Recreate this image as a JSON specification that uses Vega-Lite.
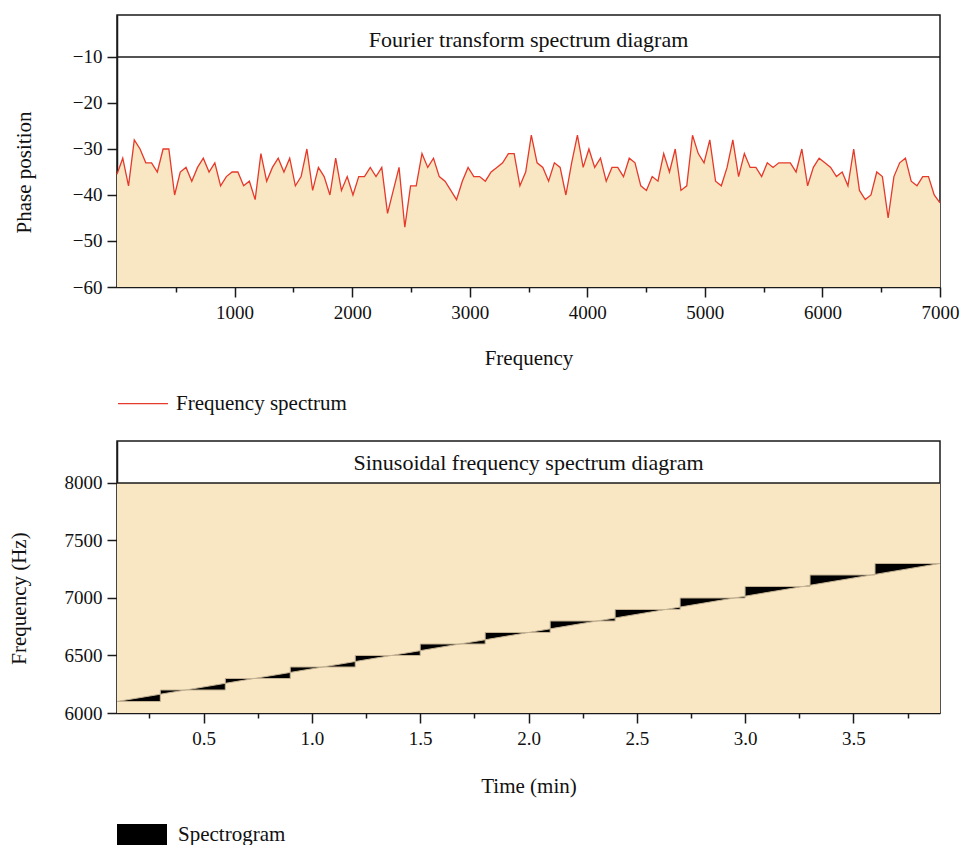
{
  "$schema": "https://vega.github.io/schema/vega-lite/v6.json",
  "background": "white",
  "padding": {"left": 7, "top": 14, "right": 5, "bottom": 0},
  "spacing": 154,
  "bounds": "flush",
  "resolve": {"scale": {"color": "independent"}, "legend": {"color": "independent"}},
  "config": {
    "font": "Liberation Serif",
    "view": {"stroke": "#1a1a1a", "strokeWidth": 1.5},
    "axis": {
      "grid": false,
      "domainColor": "#1a1a1a",
      "domainWidth": 1.5,
      "tickColor": "#1a1a1a",
      "tickWidth": 1.5,
      "labelFont": "Liberation Serif",
      "labelFontSize": 19,
      "labelColor": "#111111",
      "labelFlush": false,
      "labelOverlap": false,
      "titleFont": "Liberation Serif",
      "titleFontSize": 21,
      "titleFontWeight": "normal",
      "titleColor": "#111111"
    },
    "legend": {
      "labelFont": "Liberation Serif",
      "labelFontSize": 21,
      "labelColor": "#111111",
      "labelLimit": 400,
      "padding": 0
    }
  },
  "vconcat": [
    {
      "width": 823,
      "height": 272,
      "data": {
        "values": [
          {"frequency": 0, "phase": -35.5}, {"frequency": 49, "phase": -32}, {"frequency": 98, "phase": -38}, {"frequency": 147, "phase": -28},
          {"frequency": 196, "phase": -30}, {"frequency": 245, "phase": -33}, {"frequency": 294, "phase": -33}, {"frequency": 343, "phase": -35},
          {"frequency": 392, "phase": -30}, {"frequency": 441, "phase": -30}, {"frequency": 490, "phase": -40}, {"frequency": 538, "phase": -35},
          {"frequency": 587, "phase": -34}, {"frequency": 636, "phase": -37}, {"frequency": 685, "phase": -34}, {"frequency": 734, "phase": -32},
          {"frequency": 783, "phase": -35}, {"frequency": 832, "phase": -33}, {"frequency": 881, "phase": -38}, {"frequency": 930, "phase": -36},
          {"frequency": 979, "phase": -35}, {"frequency": 1028, "phase": -35}, {"frequency": 1077, "phase": -38}, {"frequency": 1126, "phase": -37},
          {"frequency": 1175, "phase": -41}, {"frequency": 1224, "phase": -31}, {"frequency": 1273, "phase": -37}, {"frequency": 1322, "phase": -34},
          {"frequency": 1371, "phase": -32}, {"frequency": 1420, "phase": -35}, {"frequency": 1469, "phase": -32}, {"frequency": 1517, "phase": -38},
          {"frequency": 1566, "phase": -36}, {"frequency": 1615, "phase": -30}, {"frequency": 1664, "phase": -39}, {"frequency": 1713, "phase": -34},
          {"frequency": 1762, "phase": -36}, {"frequency": 1811, "phase": -40}, {"frequency": 1860, "phase": -32}, {"frequency": 1909, "phase": -39},
          {"frequency": 1958, "phase": -36}, {"frequency": 2007, "phase": -40}, {"frequency": 2056, "phase": -36}, {"frequency": 2105, "phase": -36},
          {"frequency": 2154, "phase": -34}, {"frequency": 2203, "phase": -36}, {"frequency": 2252, "phase": -34}, {"frequency": 2301, "phase": -44},
          {"frequency": 2350, "phase": -39}, {"frequency": 2399, "phase": -34}, {"frequency": 2448, "phase": -47}, {"frequency": 2497, "phase": -38},
          {"frequency": 2545, "phase": -38}, {"frequency": 2594, "phase": -31}, {"frequency": 2643, "phase": -34}, {"frequency": 2692, "phase": -32},
          {"frequency": 2741, "phase": -36}, {"frequency": 2790, "phase": -37}, {"frequency": 2839, "phase": -39}, {"frequency": 2888, "phase": -41},
          {"frequency": 2937, "phase": -37}, {"frequency": 2986, "phase": -34}, {"frequency": 3035, "phase": -36}, {"frequency": 3084, "phase": -36},
          {"frequency": 3133, "phase": -37}, {"frequency": 3182, "phase": -35}, {"frequency": 3231, "phase": -34}, {"frequency": 3280, "phase": -33},
          {"frequency": 3329, "phase": -31}, {"frequency": 3378, "phase": -31}, {"frequency": 3427, "phase": -38}, {"frequency": 3476, "phase": -35},
          {"frequency": 3524, "phase": -27}, {"frequency": 3573, "phase": -33}, {"frequency": 3622, "phase": -34}, {"frequency": 3671, "phase": -37},
          {"frequency": 3720, "phase": -33}, {"frequency": 3769, "phase": -34}, {"frequency": 3818, "phase": -40}, {"frequency": 3867, "phase": -33},
          {"frequency": 3916, "phase": -27}, {"frequency": 3965, "phase": -34}, {"frequency": 4014, "phase": -30}, {"frequency": 4063, "phase": -34},
          {"frequency": 4112, "phase": -32}, {"frequency": 4161, "phase": -37}, {"frequency": 4210, "phase": -34}, {"frequency": 4259, "phase": -34},
          {"frequency": 4308, "phase": -36}, {"frequency": 4357, "phase": -32}, {"frequency": 4406, "phase": -33}, {"frequency": 4455, "phase": -38},
          {"frequency": 4503, "phase": -39}, {"frequency": 4552, "phase": -36}, {"frequency": 4601, "phase": -37}, {"frequency": 4650, "phase": -31},
          {"frequency": 4699, "phase": -35}, {"frequency": 4748, "phase": -30}, {"frequency": 4797, "phase": -39}, {"frequency": 4846, "phase": -38},
          {"frequency": 4895, "phase": -27}, {"frequency": 4944, "phase": -31}, {"frequency": 4993, "phase": -33}, {"frequency": 5042, "phase": -28},
          {"frequency": 5091, "phase": -37}, {"frequency": 5140, "phase": -38}, {"frequency": 5189, "phase": -34}, {"frequency": 5238, "phase": -28},
          {"frequency": 5287, "phase": -36}, {"frequency": 5336, "phase": -31}, {"frequency": 5385, "phase": -34}, {"frequency": 5434, "phase": -34},
          {"frequency": 5483, "phase": -36}, {"frequency": 5531, "phase": -33}, {"frequency": 5580, "phase": -34}, {"frequency": 5629, "phase": -33},
          {"frequency": 5678, "phase": -33}, {"frequency": 5727, "phase": -33}, {"frequency": 5776, "phase": -35}, {"frequency": 5825, "phase": -30},
          {"frequency": 5874, "phase": -38}, {"frequency": 5923, "phase": -34}, {"frequency": 5972, "phase": -32}, {"frequency": 6021, "phase": -33},
          {"frequency": 6070, "phase": -34}, {"frequency": 6119, "phase": -36}, {"frequency": 6168, "phase": -35}, {"frequency": 6217, "phase": -38},
          {"frequency": 6266, "phase": -30}, {"frequency": 6315, "phase": -39}, {"frequency": 6364, "phase": -41}, {"frequency": 6413, "phase": -40},
          {"frequency": 6462, "phase": -35}, {"frequency": 6510, "phase": -36}, {"frequency": 6559, "phase": -45}, {"frequency": 6608, "phase": -36},
          {"frequency": 6657, "phase": -33}, {"frequency": 6706, "phase": -32}, {"frequency": 6755, "phase": -37}, {"frequency": 6804, "phase": -38},
          {"frequency": 6853, "phase": -36}, {"frequency": 6902, "phase": -36}, {"frequency": 6951, "phase": -40}, {"frequency": 7000, "phase": -41.7}
        ]
      },
      "layer": [
        {
          "mark": {"type": "area", "color": "#f9e6c3"},
          "encoding": {
            "x": {
              "field": "frequency", "type": "quantitative",
              "scale": {"domain": [0, 7000], "nice": false, "zero": false},
              "axis": {
                "title": "Frequency",
                "format": "d",
                "values": [500, 1000, 1500, 2000, 2500, 3000, 3500, 4000, 4500, 5000, 5500, 6000, 6500, 7000],
                "labelExpr": "datum.value % 1000 === 0 ? datum.label : ''",
                "tickSize": {"condition": {"test": "datum.value % 1000 === 0", "value": 10}, "value": 5},
                "labelPadding": 6,
                "titlePadding": 25
              }
            },
            "y": {
              "field": "phase", "type": "quantitative",
              "scale": {"domain": [-60, -0.87], "nice": false, "zero": false},
              "axis": {
                "title": "Phase position",
                "values": [-60, -55, -50, -45, -40, -35, -30, -25, -20, -15, -10],
                "labelExpr": "datum.value % 10 === 0 ? datum.label : ''",
                "tickSize": {"condition": {"test": "datum.value % 10 === 0", "value": 10}, "value": 5},
                "labelPadding": 5,
                "titlePadding": 38,
                "titleY": 157
              }
            },
            "y2": {"datum": -60}
          }
        },
        {
          "mark": {"type": "line", "strokeWidth": 1.3},
          "encoding": {
            "x": {"field": "frequency", "type": "quantitative", "title": "Frequency"},
            "y": {"field": "phase", "type": "quantitative", "title": "Phase position"},
            "color": {
              "datum": "Frequency spectrum", "type": "nominal",
              "scale": {"range": ["#e5392b"]},
              "legend": {
                "orient": "none", "legendX": 0, "legendY": 362.6, "title": null,
                "symbolType": "stroke", "symbolSize": 2500, "symbolStrokeWidth": 1.3,
                "labelOffset": 7
              }
            }
          }
        },
        {
          "data": {"values": [{}]},
          "mark": {"type": "rule", "color": "#1a1a1a", "strokeWidth": 1.5},
          "encoding": {"y": {"datum": -10}}
        },
        {
          "data": {"values": [{"label": "Fourier transform spectrum diagram"}]},
          "mark": {"type": "text", "fontSize": 22, "baseline": "alphabetic", "align": "center", "color": "#111111"},
          "encoding": {
            "x": {"datum": 3500},
            "y": {"datum": -7.9},
            "text": {"field": "label"}
          }
        }
      ]
    },
    {
      "width": 823,
      "height": 272,
      "layer": [
        {
          "data": {"values": [{}]},
          "mark": {"type": "rect", "color": "#f9e6c3"},
          "encoding": {
            "x": {
              "datum": 0.1, "type": "quantitative",
              "scale": {"domain": [0.1, 3.9], "nice": false, "zero": false},
              "axis": {
                "title": "Time (min)",
                "format": ".1f",
                "values": [0.25, 0.5, 0.75, 1, 1.25, 1.5, 1.75, 2, 2.25, 2.5, 2.75, 3, 3.25, 3.5, 3.75],
                "labelExpr": "datum.value % 0.5 === 0 ? datum.label : ''",
                "tickSize": {"condition": {"test": "datum.value % 0.5 === 0", "value": 10}, "value": 5},
                "labelPadding": 6,
                "titlePadding": 27
              }
            },
            "x2": {"datum": 3.9},
            "y": {
              "datum": 6000, "type": "quantitative",
              "scale": {"domain": [6000, 8365], "nice": false, "zero": false},
              "axis": {
                "title": "Frequency (Hz)",
                "format": "d",
                "values": [6000, 6250, 6500, 6750, 7000, 7250, 7500, 7750, 8000],
                "labelExpr": "datum.value % 500 === 0 ? datum.label : ''",
                "tickSize": {"condition": {"test": "datum.value % 500 === 0", "value": 10}, "value": 5},
                "labelPadding": 5,
                "titlePadding": 35,
                "titleY": 157
              }
            },
            "y2": {"datum": 8000}
          }
        },
        {
          "data": {
            "values": [
              {"time": 0.1, "step": 6100, "sweep": 6100},
              {"time": 0.3, "step": 6100, "sweep": 6163.2},
              {"time": 0.3, "step": 6200, "sweep": 6163.2},
              {"time": 0.4167, "step": 6200, "sweep": 6200},
              {"time": 0.6, "step": 6200, "sweep": 6257.9},
              {"time": 0.6, "step": 6300, "sweep": 6257.9},
              {"time": 0.7333, "step": 6300, "sweep": 6300},
              {"time": 0.9, "step": 6300, "sweep": 6352.6},
              {"time": 0.9, "step": 6400, "sweep": 6352.6},
              {"time": 1.05, "step": 6400, "sweep": 6400},
              {"time": 1.2, "step": 6400, "sweep": 6447.4},
              {"time": 1.2, "step": 6500, "sweep": 6447.4},
              {"time": 1.3667, "step": 6500, "sweep": 6500},
              {"time": 1.5, "step": 6500, "sweep": 6542.1},
              {"time": 1.5, "step": 6600, "sweep": 6542.1},
              {"time": 1.6833, "step": 6600, "sweep": 6600},
              {"time": 1.8, "step": 6600, "sweep": 6636.8},
              {"time": 1.8, "step": 6700, "sweep": 6636.8},
              {"time": 2.0, "step": 6700, "sweep": 6700},
              {"time": 2.1, "step": 6700, "sweep": 6731.6},
              {"time": 2.1, "step": 6800, "sweep": 6731.6},
              {"time": 2.3167, "step": 6800, "sweep": 6800},
              {"time": 2.4, "step": 6800, "sweep": 6826.3},
              {"time": 2.4, "step": 6900, "sweep": 6826.3},
              {"time": 2.6333, "step": 6900, "sweep": 6900},
              {"time": 2.7, "step": 6900, "sweep": 6921.1},
              {"time": 2.7, "step": 7000, "sweep": 6921.1},
              {"time": 2.95, "step": 7000, "sweep": 7000},
              {"time": 3.0, "step": 7000, "sweep": 7015.8},
              {"time": 3.0, "step": 7100, "sweep": 7015.8},
              {"time": 3.2667, "step": 7100, "sweep": 7100},
              {"time": 3.3, "step": 7100, "sweep": 7110.5},
              {"time": 3.3, "step": 7200, "sweep": 7110.5},
              {"time": 3.5833, "step": 7200, "sweep": 7200},
              {"time": 3.6, "step": 7200, "sweep": 7205.3},
              {"time": 3.6, "step": 7300, "sweep": 7205.3},
              {"time": 3.9, "step": 7300, "sweep": 7300}
            ]
          },
          "mark": {"type": "area", "stroke": "#c4b394", "strokeWidth": 1},
          "encoding": {
            "x": {"field": "time", "type": "quantitative", "title": "Time (min)"},
            "y": {"field": "step", "type": "quantitative", "title": "Frequency (Hz)"},
            "y2": {"field": "sweep"},
            "color": {
              "datum": "Spectrogram", "type": "nominal",
              "scale": {"range": ["#000000"]},
              "legend": {
                "orient": "none", "legendX": 0, "legendY": 369, "title": null,
                "symbolType": "M-1,-0.44H1V0.44H-1Z", "symbolSize": 2500,
                "symbolFillColor": "#000000", "symbolStrokeWidth": 0,
                "labelOffset": 11
              }
            }
          }
        },
        {
          "data": {"values": [{}]},
          "mark": {"type": "rule", "color": "#1a1a1a", "strokeWidth": 1.5},
          "encoding": {"y": {"datum": 8000}}
        },
        {
          "data": {"values": [{"label": "Sinusoidal frequency spectrum diagram"}]},
          "mark": {"type": "text", "fontSize": 22, "baseline": "alphabetic", "align": "center", "color": "#111111"},
          "encoding": {
            "x": {"datum": 2.0},
            "y": {"datum": 8115},
            "text": {"field": "label"}
          }
        }
      ]
    }
  ]
}
